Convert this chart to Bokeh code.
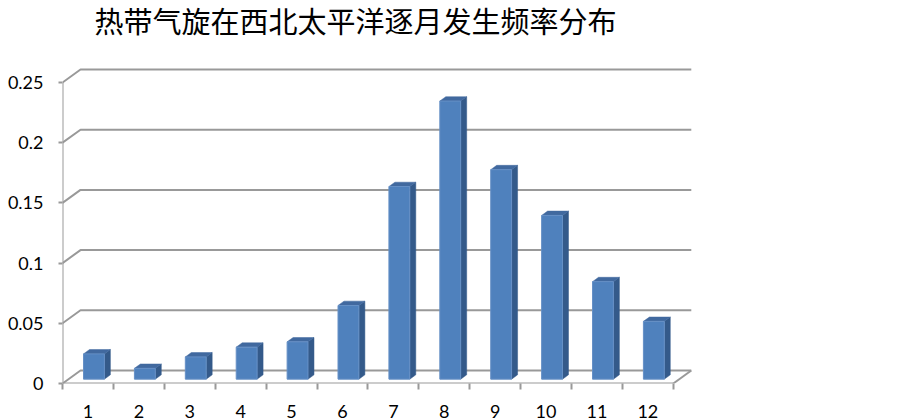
from bokeh.plotting import figure
from bokeh.models import Range1d, FixedTicker
from bokeh.core.properties import value
from bokeh.embed import file_html
from bokeh.resources import INLINE

# ---- data ----
title_text = "热带气旋在西北太平洋逐月发生频率分布"
months = [1, 2, 3, 4, 5, 6, 7, 8, 9, 10, 11, 12]
month_labels = ["1", "2", "3", "4", "5", "6", "7", "8", "9", "10", "11", "12"]
freq = [0.021, 0.009, 0.0185, 0.0266, 0.031, 0.0612, 0.160, 0.231, 0.174, 0.136, 0.081, 0.048]
y_ticks = [0, 0.05, 0.1, 0.15, 0.2, 0.25]
y_tick_labels = ["0", "0.05", "0.1", "0.15", "0.2", "0.25"]

# ---- layout ----
W, H = 720, 420
BL, BB = 62, 37
PX_CAT = 50.9      # pixels per category
PX_VAL = 1204.0    # pixels per unit of value
frame_w = W - BL
frame_h = H - BB
x0 = 0.5
x1 = x0 + frame_w / PX_CAT
y1 = frame_h / PX_VAL

DXW = 18 / PX_CAT   # depth of the 3D box (x)
DYW = 13 / PX_VAL   # depth of the 3D box (y)
ddx, ddy = DXW / 3, DYW / 3
HALF = 0.205
GRID = "#999999"

p = figure(width=W, height=H, x_range=Range1d(x0, x1), y_range=Range1d(0, y1),
           output_backend="svg", toolbar_location=None,
           min_border_left=BL, min_border_right=0, min_border_top=0, min_border_bottom=BB)
p.outline_line_color = None
p.xgrid.visible = False
p.ygrid.visible = False

first, last = months[0] - 0.5, months[-1] + 0.5
top_tick = y_ticks[-1]

# wall gridlines (left wall diagonal + back wall horizontal)
gx, gy = [], []
for t in y_ticks:
    gx.append([first, first + DXW, last + DXW])
    gy.append([t, t + DYW, t + DYW])
p.multi_line(gx, gy, line_color=GRID, line_width=2)

# floor front edge, right edge, and left axis line
p.multi_line([[first, last], [last, last + DXW], [first, first]],
             [[0, 0], [0, DYW], [0, top_tick]],
             line_color=GRID, line_width=2)

# bars
side_x, side_y, top_x, top_y = [], [], [], []
for m, v in zip(months, freq):
    l, r = m - HALF + ddx, m + HALF + ddx
    side_x.append([r, r + ddx, r + ddx, r])
    side_y.append([ddy, 2 * ddy, v + 2 * ddy, v + ddy])
    top_x.append([l, r, r + ddx, l + ddx])
    top_y.append([v + ddy, v + ddy, v + 2 * ddy, v + 2 * ddy])
p.patches(side_x, side_y, fill_color="#345A8A", line_color="#345A8A", line_width=0.5)
p.patches(top_x, top_y, fill_color="#41699F", line_color="#41699F", line_width=0.5)
p.quad(left=[m - HALF + ddx for m in months], right=[m + HALF + ddx for m in months],
       bottom=[ddy] * len(months), top=[v + ddy for v in freq],
       fill_color="#4F81BD", line_color="#6690C6", line_width=1)

# title
p.text(x=[x0 + (355 - BL) / PX_CAT], y=[(frame_h - 19) / PX_VAL], text=[title_text],
       text_font=value("Noto Sans CJK SC"), text_font_size="29px",
       text_align="center", text_baseline="middle", text_color="#000000")

# axes
ya = p.yaxis[0]
ya.ticker = FixedTicker(ticks=y_ticks)
ya.major_label_overrides = {t: s for t, s in zip(y_ticks, y_tick_labels)}
ya.axis_line_color = None
ya.major_tick_out = 4
ya.major_tick_in = 0
ya.minor_tick_out = 0
ya.minor_tick_in = 0
ya.major_tick_line_color = GRID
ya.major_tick_line_width = 2
ya.major_label_standoff = 15
ya.major_label_text_font = "Lato"
ya.major_label_text_font_size = "18px"
ya.major_label_text_color = "#000000"

xa = p.xaxis[0]
xa.ticker = FixedTicker(ticks=months, minor_ticks=[m - 0.5 for m in months] + [last])
xa.major_label_overrides = {m: s for m, s in zip(months, month_labels)}
xa.axis_line_color = None
xa.major_tick_out = 0
xa.major_tick_in = 0
xa.minor_tick_out = 6
xa.minor_tick_in = 0
xa.minor_tick_line_color = GRID
xa.minor_tick_line_width = 2
xa.major_label_standoff = 15
xa.major_label_text_font = "Lato"
xa.major_label_text_font_size = "18px"
xa.major_label_text_color = "#000000"

open("out.html", "w").write(file_html(p, INLINE))
